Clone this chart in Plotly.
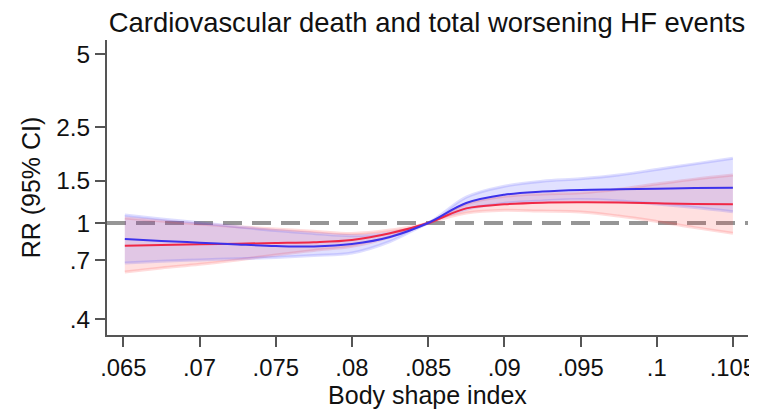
import plotly.graph_objects as go

# Body shape index grid
bsi = [0.0651, 0.0675, 0.07, 0.0725, 0.075, 0.0775, 0.08, 0.0825, 0.085,
       0.0875, 0.09, 0.0925, 0.095, 0.0975, 0.1, 0.1025, 0.105]

# Blue series (RR with 95% CI)
blue_rr = [0.858, 0.842, 0.829, 0.815, 0.803, 0.799, 0.818, 0.875, 1.0,
           1.21, 1.31, 1.35, 1.37, 1.379, 1.387, 1.396, 1.40]
blue_lo = [0.683, 0.694, 0.703, 0.711, 0.72, 0.733, 0.751, 0.838, 1.0,
           1.14, 1.207, 1.235, 1.25, 1.235, 1.20, 1.16, 1.114]
blue_hi = [1.079, 1.04, 1.003, 0.965, 0.93, 0.905, 0.885, 0.91, 1.0,
           1.28, 1.42, 1.49, 1.525, 1.58, 1.666, 1.758, 1.853]

# Red series (RR with 95% CI)
red_rr = [0.805, 0.811, 0.816, 0.821, 0.826, 0.832, 0.85, 0.906, 1.0,
          1.15, 1.195, 1.214, 1.218, 1.216, 1.207, 1.199, 1.195]
red_lo = [0.627, 0.651, 0.674, 0.703, 0.737, 0.77, 0.80, 0.875, 1.0,
          1.10, 1.13, 1.12, 1.11, 1.069, 1.015, 0.957, 0.906]
red_hi = [1.05, 1.02, 0.99, 0.965, 0.945, 0.925, 0.905, 0.935, 1.0,
          1.2, 1.29, 1.32, 1.335, 1.38, 1.45, 1.52, 1.58]

x_ticks = [0.065, 0.07, 0.075, 0.08, 0.085, 0.09, 0.095, 0.1, 0.105]
x_ticktext = [".065", ".07", ".075", ".08", ".085", ".09", ".095", ".1", ".105"]
y_ticks = [0.4, 0.7, 1, 1.5, 2.5, 5]
y_ticktext = [".4", ".7", "1", "1.5", "2.5", "5"]
ref_value = 1

FONT = "Liberation Sans, Arial, sans-serif"

fig = go.Figure()


def add_band(lo, hi, fillc, linec):
    fig.add_trace(go.Scatter(x=bsi, y=lo, mode="lines", line=dict(color=linec, width=3, shape="spline"),
                             showlegend=False, hoverinfo="skip"))
    fig.add_trace(go.Scatter(x=bsi, y=hi, mode="lines", line=dict(color=linec, width=3, shape="spline"),
                             fill="tonexty", fillcolor=fillc, showlegend=False, hoverinfo="skip"))


add_band(red_lo, red_hi, "rgba(255,60,60,0.16)", "rgba(255,60,60,0.18)")
add_band(blue_lo, blue_hi, "rgba(70,70,255,0.16)", "rgba(70,70,255,0.18)")

fig.add_trace(go.Scatter(x=bsi, y=red_rr, mode="lines",
                         line=dict(color="rgb(240,40,70)", width=2, shape="spline"), showlegend=False))
fig.add_trace(go.Scatter(x=bsi, y=blue_rr, mode="lines",
                         line=dict(color="rgb(60,50,235)", width=2, shape="spline"), showlegend=False))

fig.add_shape(type="line", xref="paper", x0=0, x1=1, yref="y", y0=ref_value, y1=ref_value,
              line=dict(color="rgb(150,150,150)", width=4, dash="19px,10px"), layer="below")

# page body has an 8px margin; figure is sized/offset to compensate
fig.update_layout(
    width=749, height=407,
    margin=dict(l=99, r=9, t=32, b=80),
    paper_bgcolor="white", plot_bgcolor="white",
    font=dict(family=FONT, size=25, color="#111111"),
    title=dict(text="Cardiovascular death and total worsening HF events",
               x=0.5594, xanchor="center", y=0.988, yanchor="top",
               font=dict(family=FONT, size=27.4, color="#111111")),
    xaxis=dict(range=[0.06393, 0.10599], tickvals=x_ticks, ticktext=x_ticktext,
               showline=True, linecolor="#555555", linewidth=2,
               ticks="outside", ticklen=10, tickwidth=2, tickcolor="#555555",
               showgrid=False, zeroline=False, automargin=False,
               ticklabeloverflow="allow",
               title=dict(text="Body shape index", standoff=4,
                          font=dict(family=FONT, size=25, color="#111111")),
               tickfont=dict(family=FONT, size=23.8, color="#111111")),
    yaxis=dict(type="log", range=[-0.4641, 0.7583], tickvals=y_ticks, ticktext=y_ticktext,
               showline=True, linecolor="#555555", linewidth=2,
               ticks="outside", ticklen=10, tickwidth=2, tickcolor="#555555",
               showgrid=False, zeroline=False, automargin=False,
               title=dict(text="RR (95% CI)", standoff=8,
                          font=dict(family=FONT, size=25, color="#111111")),
               tickfont=dict(family=FONT, size=24.4, color="#111111")),
)

fig.write_html("out.html")
